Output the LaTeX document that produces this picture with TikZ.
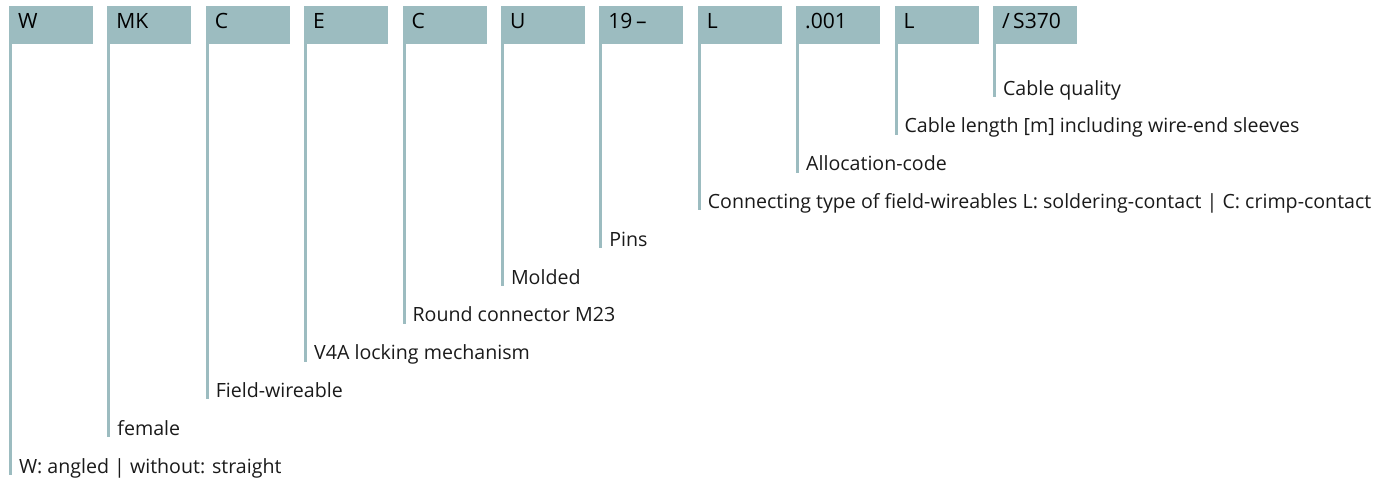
\documentclass[tikz,border=0pt]{standalone}
\usepackage{fontspec}
\setmainfont{Open Sans}
\usetikzlibrary{calc}
\definecolor{teal1}{HTML}{9CBCC0}
\definecolor{txt}{HTML}{1A1A1A}
\newcommand{\slashcode}{/\,S370}
\begin{document}
\begin{tikzpicture}[x=0.75pt,y=-0.75pt,
  codebox/.style={fill=teal1,draw=none,minimum width=63pt,minimum height=28.3pt,anchor=north west,inner sep=0pt,outer sep=0pt},
  codetext/.style={anchor=base west,inner sep=0pt,outer sep=0pt,text=black,font=\fontsize{15.8}{18}\selectfont},
  lbl/.style={anchor=base west,inner sep=0pt,outer sep=0pt,text=txt,font=\fontsize{14.7}{17}\selectfont},
  bar/.style={draw=teal1,line width=2.25pt,line cap=butt}]
\useasboundingbox (0,0) rectangle (1377,486);
\foreach \i/\t/\d [count=\n from 0] in {1/W/{W: angled | without: straight},
  2/MK/female,
  3/C/Field-wireable,
  4/E/V4A locking mechanism,
  5/C/Round connector M23,
  6/U/Molded,
  7/19\,–/Pins,
  8/L/{Connecting type of field-wireables L: soldering-contact | C: crimp-contact},
  9/.001/Allocation-code,
  10/L/{Cable length [m] including wire-end sleeves},
  11/\slashcode/Cable quality}{
  \pgfmathsetmacro{\bx}{9+98.4*\n}
  \pgfmathsetmacro{\by}{473-37.8*\n}
  \node[codebox] (b\i) at (\bx,6) {};
  \node[codetext] (t\i) at (\bx+9,28.5) {\t};
  \node[lbl] (l\i) at (\bx+10,\by) {\d};
  \coordinate (e\i) at (\bx+1.5,\by+2);
  \draw[bar] ([xshift=1.125pt]b\i.south west) -- (e\i);
}
\end{tikzpicture}
\end{document}
